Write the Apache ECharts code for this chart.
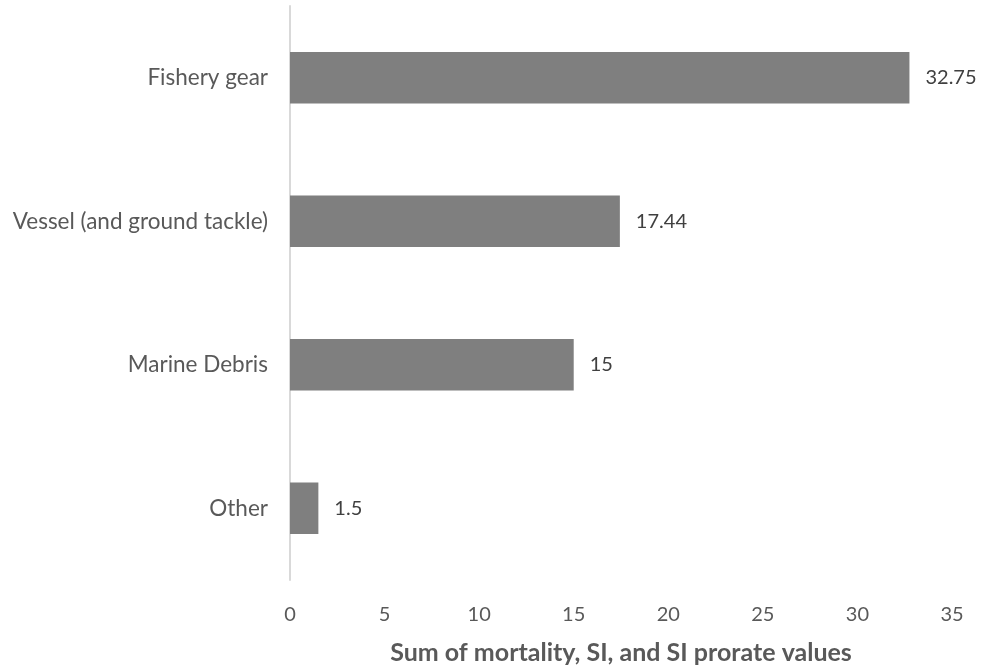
<!DOCTYPE html>
<html>
<head>
<meta charset="utf-8">
<script src="https://cdn.jsdelivr.net/npm/echarts@6/dist/echarts.min.js"></script>
<style>html,body{margin:0;padding:0;background:#fff}#c{width:985px;height:670px}</style>
</head>
<body>
<div id="c"></div>
<script>
const categories = ["Other", "Marine Debris", "Vessel (and ground tackle)", "Fishery gear"];
const values = [1.5, 15, 17.44, 32.75];
const xTicks = { min: 0, max: 35, interval: 5 };
const axisTitle = "Sum of mortality, SI, and SI prorate values";

const chart = echarts.init(document.getElementById('c'));
const font = "Lato, 'Open Sans', sans-serif";
chart.setOption({
  animation: false,
  grid: { left: 290, right: 33, top: 6, bottom: 84 },
  xAxis: {
    type: 'value', min: xTicks.min, max: xTicks.max, interval: xTicks.interval,
    splitLine: { show: false }, axisLine: { show: false }, axisTick: { show: false },
    axisLabel: { color: '#595959', fontSize: 20, fontFamily: font, margin: 25 },
    name: axisTitle, nameLocation: 'middle', nameGap: 60,
    nameTextStyle: { color: '#595959', fontSize: 25, fontWeight: 'bold', fontFamily: font }
  },
  yAxis: {
    type: 'category', data: categories,
    axisLine: { show: true, lineStyle: { color: '#d9d9d9', width: 2 } },
    axisTick: { show: false },
    axisLabel: { color: '#595959', fontSize: 22.5, fontFamily: font, margin: 22 }
  },
  series: [{
    type: 'bar', data: values, barCategoryGap: '64%',
    itemStyle: { color: '#7f7f7f' },
    label: { show: true, position: 'right', distance: 16, color: '#404040', fontSize: 20, fontFamily: font }
  }]
});
</script>
</body>
</html>
